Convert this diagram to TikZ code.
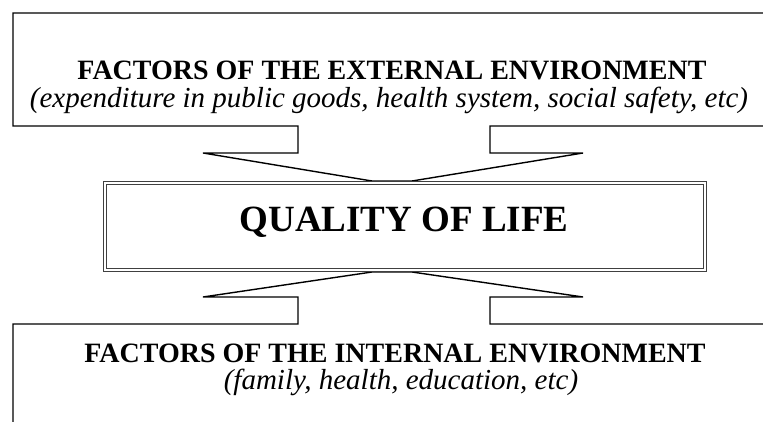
\documentclass[tikz,border=0pt]{standalone}
\usepackage{fontspec}
\setmainfont{Liberation Serif}
\begin{document}
\begin{tikzpicture}[x=1pt,y=-1pt,
  outline/.style={draw=black,line width=1.4pt,line join=miter},
  qbox/.style={draw=black!75,line width=1.3pt,double=white,double distance=2.2pt},
  head/.style={font=\fontsize{28}{32}\selectfont\bfseries,inner sep=0pt},
  sub/.style={font=\fontsize{29}{32}\selectfont\itshape,inner sep=0pt},
  title/.style={font=\fontsize{37}{40}\selectfont\bfseries,inner sep=0pt}]
\useasboundingbox (0,0) rectangle (763,422);
\clip (0,0) rectangle (763,422);
% top box with downward arrow
\draw[outline] (780,13) -- (13,13) -- (13,126) -- (298,126) -- (298,153) -- (203,153)
  -- (372,181) -- (412,181) -- (583,153) -- (490,153) -- (490,126) -- (780,126);
% bottom box with upward arrow
\draw[outline] (780,324) -- (490,324) -- (490,297) -- (583,297) -- (412,272)
  -- (372,272) -- (203,297) -- (298,297) -- (298,324) -- (13,324) -- (13,440);
% quality of life double box
\draw[qbox,fill=white] (105,183) rectangle (705,270);
\node[title] (qol) at (404,222) {QUALITY OF LIFE};
\node[head] (ext) at (392,70) {FACTORS OF THE EXTERNAL ENVIRONMENT};
\node[sub] (exts) at (389,100) {(expenditure in public goods, health system, social safety, etc)};
\node[head] (int) at (395,353) {FACTORS OF THE INTERNAL ENVIRONMENT};
\node[sub] (ints) at (401,382) {(family, health, education, etc)};
\end{tikzpicture}
\end{document}
